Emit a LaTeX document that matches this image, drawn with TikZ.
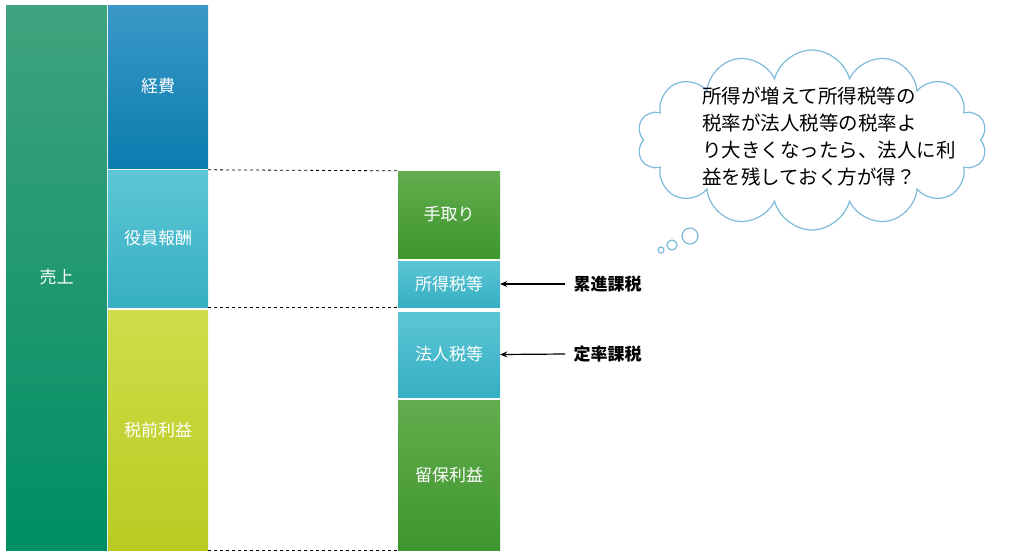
\documentclass[tikz,border=0pt]{standalone}
\usepackage{fontspec}
\setmainfont{Noto Sans CJK JP}
\usetikzlibrary{shapes.symbols,arrows.meta}
\begin{document}
\begin{tikzpicture}[x=1pt,y=-1pt,
  bx/.style={draw=none,text=white,font=\fontsize{17}{20}\selectfont},
  dl/.style={dashed,line width=0.8pt},
  ar/.style={-{Stealth[length=7pt,width=6pt]},line width=1.2pt},
  lb/.style={font=\bfseries\fontsize{17}{20}\selectfont,anchor=west}]
\useasboundingbox (0,0) rectangle (1024,558);
\definecolor{gA}{HTML}{3FA37E}\definecolor{gB}{HTML}{008E64}
\definecolor{bA}{HTML}{3A98C8}\definecolor{bB}{HTML}{0A7DAE}
\definecolor{cA}{HTML}{5CC6D6}\definecolor{cB}{HTML}{36AFC3}
\definecolor{yA}{HTML}{CFDD4A}\definecolor{yB}{HTML}{B9CB22}
\definecolor{lA}{HTML}{63AD4E}\definecolor{lB}{HTML}{3E962E}
\definecolor{cl}{HTML}{7DBCD8}
\node[bx,top color=gA,bottom color=gB,minimum width=101pt,minimum height=545pt] (uri) at (56.5,277.5) {売上};
\node[bx,top color=bA,bottom color=bB,minimum width=100pt,minimum height=163pt] (kei) at (158,86.5) {経費};
\node[bx,top color=cA,bottom color=cB,minimum width=100pt,minimum height=137pt] (yak) at (158,238.5) {役員報酬};
\node[bx,top color=yA,bottom color=yB,minimum width=100pt,minimum height=240pt] (zei) at (158,430) {税前利益};
\node[bx,top color=lA,bottom color=lB,minimum width=102pt,minimum height=87pt] (tet) at (449,214.5) {手取り};
\node[bx,top color=cA,bottom color=cB,minimum width=102pt,minimum height=46pt] (sho) at (449,284) {所得税等};
\node[bx,top color=cA,bottom color=cB,minimum width=102pt,minimum height=85pt] (hou) at (449,354.5) {法人税等};
\node[bx,top color=lA,bottom color=lB,minimum width=102pt,minimum height=150pt] (ryu) at (449,475) {留保利益};
\draw[dl] (yak.north east) -- (tet.north west);
\draw[dl] (yak.south east) -- (sho.south west);
\draw[dl] (zei.south east) -- (ryu.south west);
\coordinate (a1) at (565,284);\coordinate (a2) at (565,354);
\draw[ar] (a1) -- (sho.east);
\draw[ar] (a2) -- (hou.east);
\node[lb] (l1) at (570,284) {累進課税};
\node[lb] (l2) at (570,354) {定率課税};
\node[cloud,cloud puffs=14,aspect=2.2,draw=cl,line width=1.2pt,fill=white,minimum width=350pt,minimum height=180pt] (cd) at (812,140) {};
\node[circle,draw=cl,line width=1.2pt,fill=white,minimum size=16pt,inner sep=0] (b1) at (690,236) {};
\node[circle,draw=cl,line width=1.2pt,fill=white,minimum size=10pt,inner sep=0] (b2) at (672,245) {};
\node[circle,draw=cl,line width=1.2pt,fill=white,minimum size=6pt,inner sep=0] (b3) at (661,250) {};
\node[align=left,anchor=north west,font=\fontsize{19.5}{27}\selectfont,inner sep=0] (tx) at (702,87) {所得が増えて所得税等の\\税率が法人税等の税率よ\\り大きくなったら、法人に利\\益を残しておく方が得？};
\end{tikzpicture}
\end{document}
